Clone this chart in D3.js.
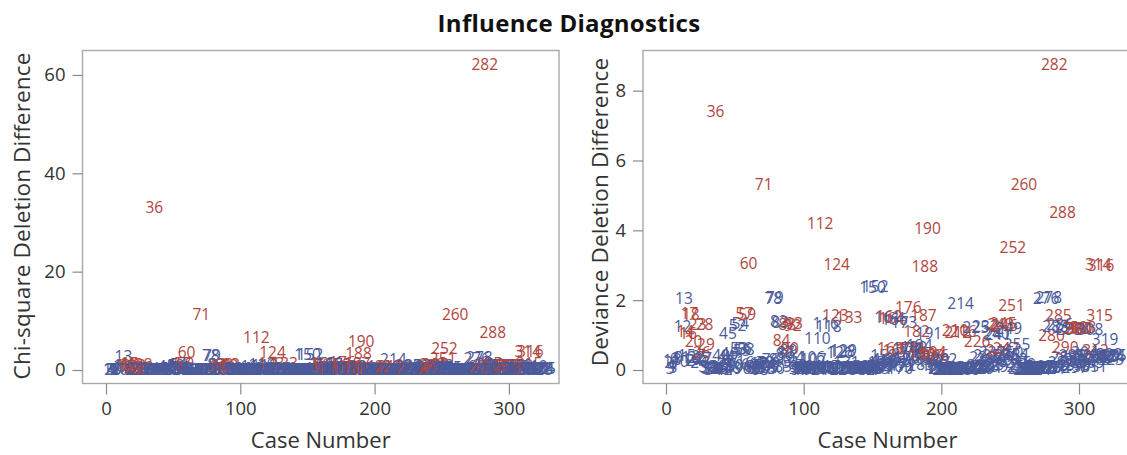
<!DOCTYPE html>
<html>
<head>
<meta charset="utf-8">
<script src="https://cdn.jsdelivr.net/npm/d3@7"></script>
<style>
  body { margin: 0; background: #fff; }
  text { font-family: "Open Sans", "Noto Sans", sans-serif; }
</style>
</head>
<body>
<svg id="chart" width="1127" height="455"></svg>
<script>
// Deletion diagnostics per observation (case 1..325), ten cases per row.
const devianceDiff = [
  0.28,0.22,0.05,0.12,0.08,0.32,0.18,0.30,0.35,0.25,
  0.35,1.25,2.05,1.10,0.40,1.05,1.62,1.58,0.30,0.80,
  0.28,0.35,1.30,0.20,0.38,0.50,0.32,1.30,0.72,0.10,
  0.06,0.03,0.08,0.02,0.05,7.40,0.04,0.09,0.03,0.42,
  0.05,0.02,0.06,0.38,1.05,0.48,0.35,0.07,0.04,0.12,
  0.25,1.28,0.60,1.32,0.55,0.62,1.62,0.58,1.60,3.05,
  0.15,0.05,0.10,0.20,0.04,0.08,0.18,0.02,0.06,0.12,
  5.30,0.22,0.05,0.15,0.10,0.30,0.08,2.05,2.06,0.05,
  0.30,1.38,1.36,0.85,0.10,0.45,0.50,1.30,0.55,0.62,
  0.20,1.28,1.32,0.35,0.05,0.10,0.02,0.08,0.04,0.03,
  0.04,0.02,0.07,0.10,0.05,0.35,0.30,0.03,0.06,0.90,
  0.04,4.20,0.08,0.02,0.05,1.32,0.10,1.25,0.03,0.07,
  0.05,0.02,1.55,3.02,0.08,0.50,0.04,0.52,0.55,0.06,
  0.20,0.03,1.50,0.05,0.08,0.02,0.04,0.10,0.03,0.06,
  0.04,0.02,0.07,0.05,0.03,0.09,0.02,0.06,0.04,2.36,
  0.10,2.40,0.05,0.03,0.12,0.20,0.15,0.40,0.25,0.30,
  1.50,1.52,0.62,1.48,0.20,1.45,0.55,0.30,0.10,0.05,
  0.15,0.12,1.35,0.60,0.35,1.78,0.58,0.62,0.50,0.65,
  0.40,1.10,0.30,0.70,0.15,0.45,1.55,2.95,0.35,4.05,
  1.05,0.25,0.40,0.50,0.12,0.42,0.20,0.08,0.05,0.03,
  0.05,0.30,0.02,0.04,0.01,0.06,0.03,0.02,0.05,1.12,
  0.04,1.08,0.02,1.90,0.06,1.10,0.03,0.05,0.02,0.07,
  0.04,0.05,0.03,0.05,1.22,0.82,0.06,0.12,0.04,0.35,
  0.10,1.25,0.42,0.08,0.30,0.15,0.50,0.25,0.10,1.05,
  1.00,0.55,1.30,0.35,1.32,1.28,0.60,0.40,1.20,0.50,
  1.85,3.50,0.30,0.45,0.72,0.20,0.10,0.05,0.15,5.30,
  0.04,0.02,0.06,0.03,0.01,0.05,0.02,0.04,0.07,0.03,
  0.02,0.05,0.08,0.03,0.06,2.05,0.04,2.07,0.10,0.98,
  0.05,8.75,1.25,0.08,1.55,1.30,0.20,4.50,0.35,0.65,
  1.22,0.30,1.15,0.12,0.40,0.25,0.08,1.20,0.15,1.18,
  1.20,0.30,1.22,0.50,0.10,0.40,0.35,1.15,0.20,0.38,
  0.10,0.55,0.30,3.02,1.55,3.00,0.35,0.40,0.88,0.40,
  0.35,0.45,0.30,0.38,0.42
];

const chiSquareDiff = [
  0.17,0.13,0.03,0.07,0.04,0.19,0.11,0.18,0.21,0.15,
  0.21,1.00,2.70,0.85,0.24,0.80,1.35,1.30,0.18,0.56,
  0.17,0.21,1.00,0.12,0.23,0.33,0.19,1.02,0.50,0.05,
  0.03,0.02,0.04,0.01,0.03,33.0,0.02,0.05,0.02,0.25,
  0.03,0.01,0.03,0.23,0.80,0.30,0.21,0.04,0.02,0.07,
  0.15,1.00,0.40,1.05,0.36,0.42,1.35,0.38,1.32,3.60,
  0.09,0.03,0.05,0.12,0.02,0.04,0.11,0.01,0.03,0.07,
  11.3,0.13,0.03,0.09,0.05,0.18,0.04,2.90,2.95,0.03,
  0.18,1.10,1.08,0.60,0.05,0.27,0.32,1.02,0.36,0.43,
  0.12,1.00,1.05,0.21,0.03,0.05,0.01,0.04,0.02,0.02,
  0.02,0.01,0.04,0.05,0.03,0.21,0.18,0.02,0.03,0.64,
  0.02,6.60,0.04,0.01,0.03,1.05,0.05,0.98,0.02,0.04,
  0.03,0.01,1.28,3.50,0.04,0.32,0.02,0.34,0.36,0.03,
  0.12,0.02,1.22,0.03,0.04,0.01,0.02,0.05,0.02,0.03,
  0.02,0.01,0.04,0.03,0.02,0.05,0.01,0.03,0.02,3.10,
  0.05,3.20,0.03,0.02,0.07,0.12,0.09,0.24,0.15,0.18,
  1.30,1.22,0.43,1.18,0.12,1.25,0.36,0.18,0.05,0.03,
  0.09,0.07,1.10,0.40,0.21,1.60,0.40,0.43,0.32,0.45,
  0.24,0.78,0.18,0.48,0.09,0.30,1.25,3.40,0.21,5.80,
  0.80,0.15,0.26,0.33,0.07,0.28,0.12,0.04,0.03,0.02,
  0.03,0.18,0.01,0.02,0.01,0.03,0.02,0.01,0.03,0.78,
  0.02,0.75,0.01,2.05,0.03,0.77,0.02,0.03,0.01,0.04,
  0.02,0.03,0.02,0.03,0.95,0.58,0.03,0.07,0.02,0.21,
  0.05,0.98,0.25,0.04,0.18,0.09,0.32,0.15,0.05,0.80,
  0.75,0.38,1.02,0.21,1.05,1.00,0.42,0.24,0.92,0.32,
  2.40,4.40,0.18,0.27,0.50,0.12,0.05,0.03,0.09,11.2,
  0.02,0.01,0.03,0.02,0.01,0.03,0.01,0.02,0.04,0.02,
  0.01,0.03,0.04,0.02,0.03,2.40,0.02,2.45,0.05,0.70,
  0.03,62.2,0.98,0.04,1.28,1.02,0.12,7.70,0.21,0.45,
  0.95,0.18,0.88,0.07,0.24,0.15,0.04,0.88,0.09,0.86,
  0.88,0.18,0.90,0.32,0.05,0.24,0.21,0.88,0.12,0.23,
  0.05,0.38,0.18,3.70,1.30,3.65,0.21,0.24,0.62,0.24,
  0.21,0.27,0.18,0.23,0.25
];

// Observed response level: 1 = event (red labels), 0 = non-event (blue labels)
const response = [
  0,0,0,0,0,0,0,0,0,0,
  0,0,0,1,0,1,1,1,0,1,
  0,0,1,0,0,1,0,1,1,0,
  0,0,0,0,0,1,0,0,0,0,
  0,0,0,0,0,0,0,0,0,0,
  0,0,0,0,0,0,1,0,1,1,
  0,0,0,0,0,0,0,0,0,0,
  1,0,0,0,0,0,0,0,0,0,
  0,0,0,1,0,0,0,1,0,1,
  0,1,1,0,0,0,0,0,0,0,
  0,0,0,0,0,0,0,0,0,0,
  0,1,0,0,0,0,0,0,0,0,
  0,0,1,1,0,0,0,0,0,0,
  0,0,1,0,0,0,0,0,0,0,
  0,0,0,0,0,0,0,0,0,0,
  0,0,0,0,0,0,0,0,0,0,
  0,1,1,1,0,0,1,0,0,0,
  0,0,0,0,0,1,1,1,0,0,
  0,1,0,0,0,1,1,1,0,1,
  0,0,1,1,0,1,0,0,0,0,
  0,0,0,0,0,0,0,0,0,1,
  0,1,0,0,0,1,0,0,0,0,
  0,0,0,0,0,1,0,0,0,0,
  0,0,0,0,0,0,0,0,0,0,
  0,1,1,0,1,1,1,0,0,0,
  1,1,0,0,0,0,0,0,0,1,
  0,0,0,0,0,0,0,0,0,0,
  0,0,0,0,0,0,0,0,0,1,
  0,1,0,0,1,0,0,1,0,1,
  0,0,0,0,0,0,0,1,0,1,
  1,0,1,0,0,0,0,0,0,0,
  0,1,0,1,1,1,0,0,0,0,
  0,0,0,0,0
];

const caseNumber = devianceDiff.map((_, i) => i + 1);

const xTicks = [0, 100, 200, 300];
const chiTicks = [0, 20, 40, 60];
const devTicks = [0, 2, 4, 6, 8];

const chartTitle = "Influence Diagnostics";
const xTitle = "Case Number";
const chiTitle = "Chi-square Deletion Difference";
const devTitle = "Deviance Deletion Difference";

const colorByResponse = ["#4a5a9b", "#b0463e"];

const rows = caseNumber.map((c, i) => ({
  id: c, chi: chiSquareDiff[i], dev: devianceDiff[i], grp: response[i]
}));

const svg = d3.select("#chart");

svg.append("text")
  .attr("x", 569).attr("y", 32)
  .attr("text-anchor", "middle")
  .attr("font-size", 24).attr("font-weight", "bold")
  .attr("letter-spacing", 0.3)
  .attr("fill", "#111")
  .text(chartTitle);

function panel(cfg) {
  const { left, right, top, bottom } = cfg.frame;
  const x = d3.scaleLinear().domain(cfg.xDomain).range([left, right]);
  const y = d3.scaleLinear().domain(cfg.yDomain).range([bottom, top]);
  const g = svg.append("g");

  const clipId = "clip-" + cfg.key;
  svg.append("clipPath").attr("id", clipId)
    .append("rect").attr("x", left).attr("y", top)
    .attr("width", right - left).attr("height", bottom - top);

  // each observation is drawn as its case-number label
  g.append("g").attr("clip-path", `url(#${clipId})`)
    .selectAll("text").data(rows).join("text")
    .attr("x", d => x(d.id))
    .attr("y", d => y(d[cfg.field]))
    .attr("dy", "0.35em")
    .attr("text-anchor", "middle")
    .attr("font-size", 15.5)
    .attr("fill", d => colorByResponse[d.grp])
    .text(d => d.id);

  g.append("rect")
    .attr("x", left).attr("y", top)
    .attr("width", right - left).attr("height", bottom - top)
    .attr("fill", "none").attr("stroke", "#a8a8a8").attr("stroke-width", 1.4);

  const xAxis = g.append("g").attr("transform", `translate(0,${bottom})`)
    .call(d3.axisBottom(x).tickValues(xTicks).tickSize(11).tickPadding(7).tickSizeOuter(0));
  const yAxis = g.append("g").attr("transform", `translate(${left},0)`)
    .call(d3.axisLeft(y).tickValues(cfg.yTicks).tickSize(10).tickPadding(7).tickSizeOuter(0));

  [xAxis, yAxis].forEach(a => {
    a.select(".domain").remove();
    a.selectAll(".tick line").attr("stroke", "#8a8a8a").attr("stroke-width", 1.2);
    a.selectAll(".tick text")
      .attr("font-family", '"Open Sans", sans-serif')
      .attr("font-size", 18.5).attr("fill", "#333");
  });

  g.append("text")
    .attr("x", (left + right) / 2).attr("y", 448)
    .attr("text-anchor", "middle")
    .attr("font-size", 22).attr("fill", "#333")
    .text(xTitle);

  g.append("text")
    .attr("transform", `translate(${cfg.yTitleX},${cfg.yTitleY}) rotate(-90)`)
    .attr("text-anchor", "middle")
    .attr("font-size", 22.5).attr("letter-spacing", 0.15).attr("fill", "#333")
    .text(cfg.yTitle);
}

panel({
  key: "chi", field: "chi",
  frame: { left: 82.5, right: 559, top: 50.5, bottom: 383.5 },
  xDomain: [-17.5, 337.3], yDomain: [-2.74, 64.97],
  yTicks: chiTicks, yTitle: chiTitle, yTitleX: 30, yTitleY: 216
});

panel({
  key: "dev", field: "dev",
  frame: { left: 643, right: 1132, top: 50.5, bottom: 383.5 },
  xDomain: [-16.7, 338.5], yDomain: [-0.387, 9.15],
  yTicks: devTicks, yTitle: devTitle, yTitleX: 608, yTitleY: 212
});
</script>
</body>
</html>
